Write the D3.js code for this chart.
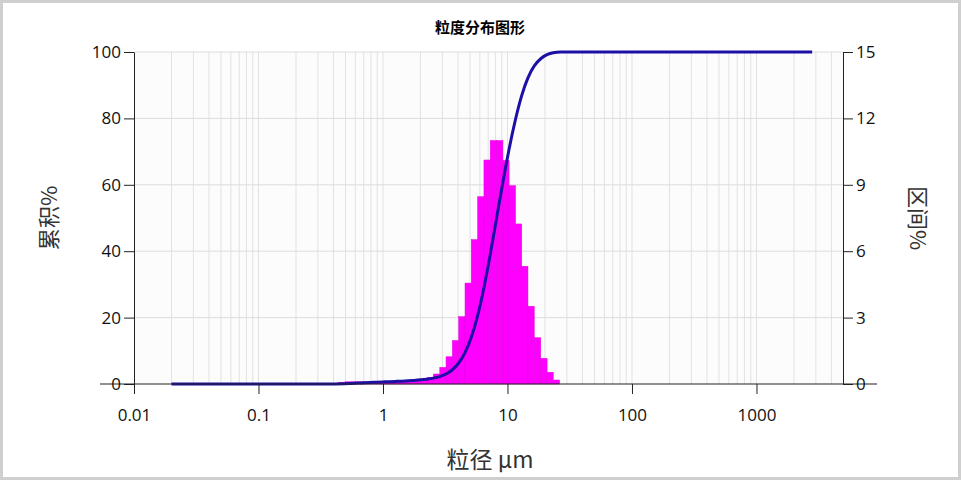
<!DOCTYPE html>
<html>
<head>
<meta charset="utf-8">
<script src="https://cdn.jsdelivr.net/npm/d3@7"></script>
<style>
  body { margin: 0; background: #fff; }
  svg { display: block; }
  text { font-family: "Open Sans", "Liberation Sans", sans-serif; }
  .cjk { font-family: "Noto Sans CJK SC", sans-serif; }
</style>
</head>
<body>
<svg id="chart" width="961" height="480"></svg>
<script>
// bin edges (µm), log spaced
var binEdges = [0.44, 0.495, 0.556, 0.625, 0.702, 0.789, 0.887, 0.997, 1.12, 1.26, 1.42, 1.59,
    1.79, 2.01, 2.26, 2.54, 2.86, 3.21, 3.61, 4.06, 4.56, 5.12, 5.76, 6.47, 7.27, 8.17, 9.19,
    10.3, 11.6, 13.0, 14.6, 16.4, 18.5, 20.8, 23.3, 26.2];
// interval % per bin
var binValues = [0.08, 0.1, 0.1, 0.1, 0.09, 0.08, 0.07, 0.07, 0.08, 0.09, 0.1, 0.12, 0.16, 0.2, 0.3,
    0.45, 0.75, 1.23, 1.96, 3.04, 4.56, 6.52, 8.46, 10.12, 11.0, 11.0, 10.1, 8.96, 7.23, 5.32,
    3.51, 2.09, 1.16, 0.53, 0.18];
var leftTicks = [0, 20, 40, 60, 80, 100];
var rightTicks = [0, 3, 6, 9, 12, 15];
var xTicks = [0.01, 0.1, 1, 10, 100, 1000];
var curveStart = 0.02, curveEnd = 2800;

var svg = d3.select('#chart');
var margin = { left: 134, right: 118, top: 52, bottom: 96 };
var W = 961 - margin.left - margin.right, H = 480 - margin.top - margin.bottom;

// frame
svg.append('rect').attr('x', 1.5).attr('y', 1.5).attr('width', 958).attr('height', 477)
    .attr('fill', 'none').attr('stroke', '#cfcfcf').attr('stroke-width', 3);

var x = d3.scaleLog().domain([0.01, 4955]).range([0, W]);
var yL = d3.scaleLinear().domain([0, 100]).range([H, 0]);
var yR = d3.scaleLinear().domain([0, 15]).range([H, 0]);

var g = svg.append('g').attr('transform', 'translate(' + margin.left + ',' + margin.top + ')');
g.append('rect').attr('width', W).attr('height', H).attr('fill', '#fcfcfc');

// vertical grid (log minor lines)
var gridX = [];
for (var e = -2; e <= 3; e++) {
    for (var m = 1; m <= 9; m++) {
        var v = m * Math.pow(10, e);
        if (v >= 0.02 && v < 4955) gridX.push(v);
    }
}
g.selectAll('.vg').data(gridX).enter().append('line')
    .attr('x1', d => x(d)).attr('x2', d => x(d)).attr('y1', 0).attr('y2', H)
    .attr('stroke', '#e2e2e2').attr('stroke-width', 1);
g.selectAll('.hg').data(leftTicks.slice(1)).enter().append('line')
    .attr('x1', 0).attr('x2', W).attr('y1', d => yL(d)).attr('y2', d => yL(d))
    .attr('stroke', '#dcdcdc').attr('stroke-width', 1);

// bars
var bins = binValues.map(function (v, i) { return { x0: binEdges[i], x1: binEdges[i + 1], v: v }; });
g.selectAll('.bar').data(bins).enter().append('rect')
    .attr('x', d => x(d.x0)).attr('width', d => x(d.x1) - x(d.x0))
    .attr('y', d => yR(d.v)).attr('height', d => H - yR(d.v))
    .attr('fill', '#ff00ff').attr('stroke', '#dd00dd').attr('stroke-width', 0.5);

// cumulative curve
var cum = [[curveStart, 0], [binEdges[0], 0]];
var s = 0;
bins.forEach(function (b) { s += b.v; cum.push([b.x1, s]); });
var total = s;
cum = cum.map(d => [d[0], d[1] / total * 100]);
cum.push([34, 100]);
cum.push([curveEnd, 100]);
g.append('path').datum(cum)
    .attr('d', d3.line().x(d => x(d[0])).y(d => yL(d[1])).curve(d3.curveBasis))
    .attr('fill', 'none').attr('stroke', '#1c0fa6').attr('stroke-width', 3);

// axes
var ax = g.append('g').attr('transform', 'translate(0,' + H + ')')
    .call(d3.axisBottom(x).tickValues(xTicks).tickFormat(d3.format('~g')).tickSize(10).tickSizeOuter(0));
var al = g.append('g').call(d3.axisLeft(yL).tickValues(leftTicks).tickSize(10).tickSizeOuter(0));
var ar = g.append('g').attr('transform', 'translate(' + W + ',0)')
    .call(d3.axisRight(yR).tickValues(rightTicks).tickSize(10).tickSizeOuter(0));
[ax, al, ar].forEach(function (a) {
    a.selectAll('path, line').attr('stroke', '#222');
    a.selectAll('text').attr('font-size', 17).attr('fill', '#111')
        .attr('font-family', '"Open Sans", sans-serif');
});
ax.selectAll('text').attr('dy', '1.4em');
ax.select('.domain').attr('d', 'M-34,0H' + (W + 34));

// labels
svg.append('text').attr('class', 'cjk').attr('x', 480).attr('y', 33).attr('text-anchor', 'middle')
    .attr('font-size', 15).attr('font-weight', 'bold').text('粒度分布图形');
svg.append('text').attr('class', 'cjk').attr('transform', 'translate(57,218) rotate(-90)')
    .attr('text-anchor', 'middle').attr('font-size', 22).attr('fill', '#333').text('累积%');
svg.append('text').attr('class', 'cjk').attr('transform', 'translate(910,218) rotate(90)')
    .attr('text-anchor', 'middle').attr('font-size', 22).attr('fill', '#333').text('区间%');
svg.append('text').attr('class', 'cjk').attr('x', 490).attr('y', 468).attr('text-anchor', 'middle')
    .attr('font-size', 23).attr('fill', '#333').text('粒径 µm');
</script>
</body>
</html>
